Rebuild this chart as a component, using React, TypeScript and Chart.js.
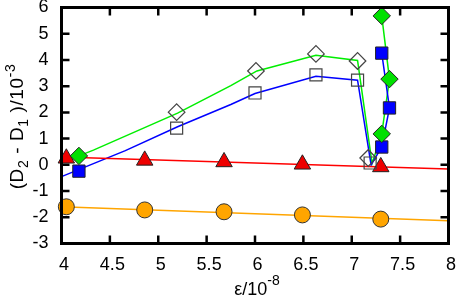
import React, { useEffect, useRef } from "react";
import { Chart, registerables } from "chart.js";

Chart.register(...registerables);

// Axis ranges / ticks
const xMin = 4;
const xMax = 8;
const xStep = 0.5;
const yMin = -3;
const yMax = 6;
const yStep = 1;

// Orange circles + fitted line
const circleX = [4.05, 4.86, 5.68, 6.49, 7.3];
const circleY = [-1.6, -1.72, -1.79, -1.91, -2.07];
const orangeLineX = [4.0, 8.0];
const orangeLineY = [-1.6, -2.13];

// Red triangles + fitted line
const triangleX = [4.05, 4.86, 5.68, 6.49, 7.3];
const triangleY = [0.25, 0.17, 0.11, 0.02, -0.08];
const redLineX = [4.0, 8.0];
const redLineY = [0.3, -0.16];

// Open squares (gray)
const openSquareX = [5.19, 6.0, 6.63, 7.06, 7.19];
const openSquareY = [1.4, 2.74, 3.43, 3.23, 0.07];

// Open diamonds (gray)
const openDiamondX = [5.19, 6.01, 6.63, 7.06, 7.17];
const openDiamondY = [2.01, 3.58, 4.23, 3.96, 0.26];

// Filled blue squares
const blueSquareX = [4.18, 7.31, 7.39, 7.31];
const blueSquareY = [-0.24, 0.68, 2.17, 4.26];

// Filled green diamonds
const greenDiamondX = [4.18, 7.31, 7.39, 7.31];
const greenDiamondY = [0.34, 1.18, 3.27, 5.68];

// Blue curve
const blueLineX = [4.0, 4.66, 5.2, 5.75, 6.0, 6.63, 7.06, 7.2, 7.31, 7.39, 7.31];
const blueLineY = [-0.45, 0.54, 1.45, 2.3, 2.72, 3.38, 3.23, 0.0, 0.68, 2.17, 4.26];

// Green curve
const greenLineX = [4.18, 4.33, 5.2, 5.75, 6.02, 6.63, 7.06, 7.21, 7.31, 7.39, 7.31];
const greenLineY = [0.34, 0.56, 1.97, 3.02, 3.58, 4.18, 3.98, 0.05, 1.18, 3.27, 5.68];

const FONT = "'Liberation Sans', Arial, Helvetica, sans-serif";
const TICK_SIZE = 18;

function pts(xs: number[], ys: number[]) {
  return xs.map((x, i) => ({ x, y: ys[i] }));
}

function range(a: number, b: number, s: number) {
  const out: number[] = [];
  for (let v = a; v <= b + 1e-9; v += s) out.push(Math.round(v * 1000) / 1000);
  return out;
}

const framePlugin = {
  id: "frame",
  afterDatasetsDraw(chart: any) {
    const { ctx, chartArea } = chart;
    const xs = chart.scales.x;
    const ys = chart.scales.y;
    const { left, right, top, bottom } = chartArea;
    ctx.save();
    ctx.strokeStyle = "#000";
    ctx.lineWidth = 2.5;
    const tl = 8;
    ctx.beginPath();
    for (const v of range(xMin, xMax, xStep)) {
      const p = xs.getPixelForValue(v);
      ctx.moveTo(p, bottom);
      ctx.lineTo(p, bottom - tl);
      ctx.moveTo(p, top);
      ctx.lineTo(p, top + tl);
    }
    for (const v of range(yMin, yMax, yStep)) {
      const p = ys.getPixelForValue(v);
      ctx.moveTo(left, p);
      ctx.lineTo(left + tl, p);
      ctx.moveTo(right, p);
      ctx.lineTo(right - tl, p);
    }
    ctx.stroke();
    ctx.lineWidth = 3;
    ctx.strokeRect(left, top, right - left, bottom - top);
    ctx.restore();
  },
  afterDraw(chart: any) {
    const { ctx, chartArea } = chart;
    ctx.save();
    ctx.fillStyle = "#000";
    ctx.textBaseline = "alphabetic";
    const big = `${TICK_SIZE}px ${FONT}`;
    const small = `14px ${FONT}`;

    // x title: ε/10^-8
    const xsegs: [string, string, number][] = [
      ["ε/10", big, 0],
      ["-8", small, -10],
    ];
    let w = 0;
    for (const [t, f] of xsegs) {
      ctx.font = f;
      w += ctx.measureText(t).width;
    }
    let cx = (chartArea.left + chartArea.right) / 2 + 2 - w / 2;
    for (const [t, f, dy] of xsegs) {
      ctx.font = f;
      ctx.fillText(t, cx, 295 + dy);
      cx += ctx.measureText(t).width;
    }

    // y title: (D_2 - D_1 )/10^-3
    const yBig = `19px ${FONT}`;
    const ysegs: [string, string, number][] = [
      ["(D", yBig, 0],
      ["2", small, 5],
      [" - D", yBig, 0],
      ["1", small, 5],
      [" )/10", yBig, 0],
      ["-3", small, -8],
    ];
    (ctx as any).letterSpacing = "0.6px";
    w = 0;
    for (const [t, f] of ysegs) {
      ctx.font = f;
      w += ctx.measureText(t).width;
    }
    ctx.translate(23, (chartArea.top + chartArea.bottom) / 2 + 1);
    ctx.rotate(-Math.PI / 2);
    let px = -w / 2;
    for (const [t, f, dy] of ysegs) {
      ctx.font = f;
      ctx.fillText(t, px, dy);
      px += ctx.measureText(t).width;
    }
    ctx.restore();
  },
};

const zeroPad = (s: any) => {
  s.paddingTop = 0;
  s.paddingBottom = 0;
  s.paddingLeft = 0;
  s.paddingRight = 0;
};

export default function App() {
  const ref = useRef<HTMLCanvasElement>(null);
  useEffect(() => {
    document.body.style.margin = "0";
    const canvas = ref.current!;
    const lineDs = (xs: number[], ys: number[], color: string) => ({
      type: "line" as const,
      data: pts(xs, ys),
      showLine: true,
      borderColor: color,
      borderWidth: 1.5,
      pointRadius: 0,
      pointHoverRadius: 0,
      fill: false,
      tension: 0,
      clip: false as any,
      order: 2,
    });
    const markerDs = (
      xs: number[],
      ys: number[],
      style: string,
      r: number,
      fill: string,
      stroke: string,
      bw: number
    ) => ({
      type: "scatter" as const,
      data: pts(xs, ys),
      showLine: false,
      pointStyle: style,
      pointRadius: r,
      pointHoverRadius: r,
      pointBackgroundColor: fill,
      pointBorderColor: stroke,
      pointBorderWidth: bw,
      backgroundColor: fill,
      borderColor: stroke,
      clip: false as any,
      order: 1,
    });

    const chart = new Chart(canvas, {
      type: "scatter",
      data: {
        datasets: [
          lineDs(orangeLineX, orangeLineY, "#ffa500"),
          lineDs(redLineX, redLineY, "#ff0000"),
          lineDs(blueLineX, blueLineY, "#0000ff"),
          lineDs(greenLineX, greenLineY, "#00ee00"),
          markerDs(greenDiamondX, greenDiamondY, "rectRot", 8.7, "#00e000", "#222", 1),
          markerDs(blueSquareX, blueSquareY, "rect", 8.7, "#0000ff", "#222", 1),
          markerDs(openDiamondX, openDiamondY, "rectRot", 8.3, "rgba(0,0,0,0)", "#444", 1.2),
          markerDs(openSquareX, openSquareY, "rect", 8.5, "rgba(0,0,0,0)", "#444", 1.2),
          markerDs(triangleX, triangleY, "triangle", 9.5, "#ee0000", "#222", 1),
          markerDs(circleX, circleY, "circle", 8, "#ffa500", "#333", 1),
        ] as any,
      },
      options: {
        animation: false,
        responsive: false,
        events: [],
        layout: {
          autoPadding: false,
          padding: { left: 0, top: 7.5, right: 9.5, bottom: 0 },
        } as any,
        plugins: {
          legend: { display: false },
          tooltip: { enabled: false },
        },
        scales: {
          x: {
            type: "linear",
            min: xMin,
            max: xMax,
            grid: { display: false, drawTicks: false },
            border: { display: false },
            ticks: {
              stepSize: xStep,
              padding: 11,
              labelOffset: 2.5,
              color: "#000",
              font: { family: FONT, size: TICK_SIZE },
              maxRotation: 0,
              autoSkip: false,
              callback: (v: any) => String(Math.round(Number(v) * 10) / 10),
            },
            afterFit: (s: any) => {
              s.height = 57.5;
              zeroPad(s);
            },
          },
          y: {
            type: "linear",
            min: yMin,
            max: yMax,
            grid: { display: false, drawTicks: false },
            border: { display: false },
            ticks: {
              stepSize: yStep,
              padding: 13,
              color: "#000",
              font: { family: FONT, size: TICK_SIZE },
              autoSkip: false,
              callback: (v: any) => String(v),
            },
            afterFit: (s: any) => {
              s.width = 61.5;
              zeroPad(s);
            },
          },
        },
      },
      plugins: [framePlugin],
    });
    return () => chart.destroy();
  }, []);
  return <canvas ref={ref} width={458} height={301} style={{ display: "block" }} />;
}
